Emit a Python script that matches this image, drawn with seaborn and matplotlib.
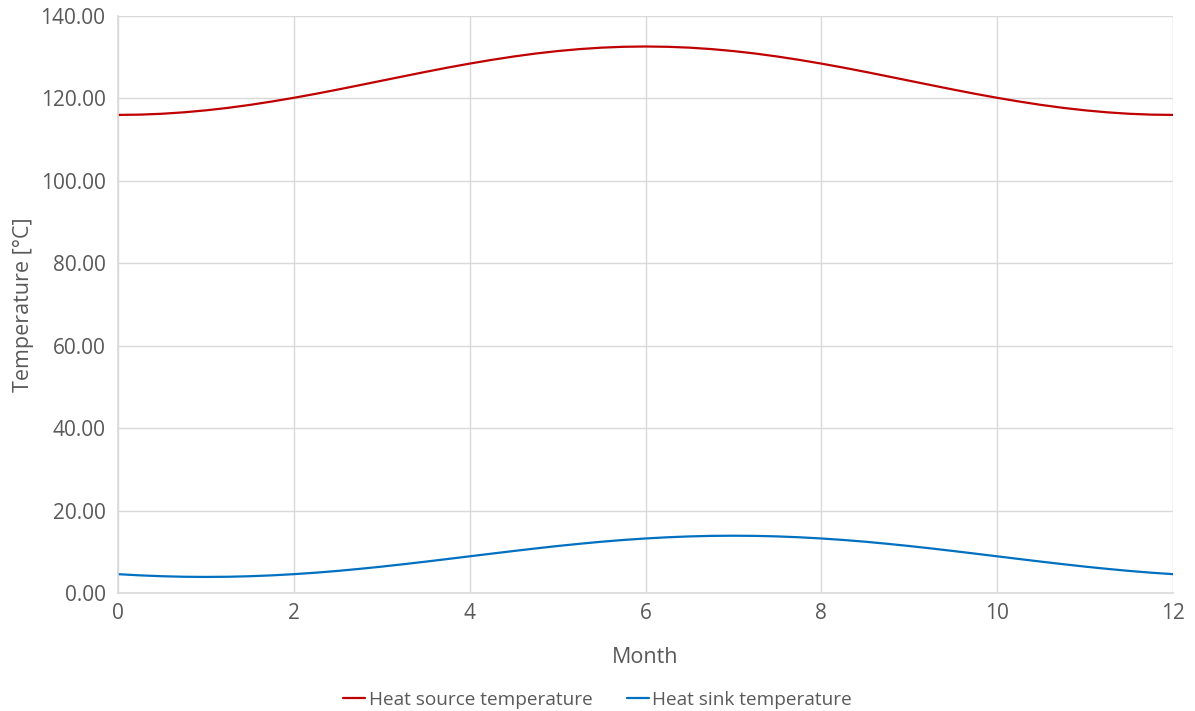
import numpy as np
import pandas as pd
import matplotlib
matplotlib.use("Agg")
import matplotlib.pyplot as plt
import seaborn as sns
from matplotlib.ticker import FormatStrFormatter

# Temperature profiles over the year, sampled every quarter month
month = np.linspace(0, 12, 49).tolist()
heat_source = [116.00, 116.07, 116.28, 116.63, 117.11, 117.71, 118.43, 119.25,
               120.15, 121.12, 122.15, 123.22, 124.30, 125.38, 126.45, 127.48,
               128.45, 129.35, 130.17, 130.89, 131.49, 131.97, 132.32, 132.53,
               132.60, 132.53, 132.32, 131.97, 131.49, 130.89, 130.17, 129.35,
               128.45, 127.48, 126.45, 125.38, 124.30, 123.22, 122.15, 121.12,
               120.15, 119.25, 118.43, 117.71, 117.11, 116.63, 116.28, 116.07,
               116.00]
heat_sink = [4.57, 4.28, 4.07, 3.94, 3.90, 3.94, 4.07, 4.28, 4.57, 4.93,
             5.36, 5.86, 6.40, 6.99, 7.61, 8.25, 8.90, 9.55, 10.19, 10.81,
             11.40, 11.94, 12.44, 12.87, 13.23, 13.52, 13.73, 13.86, 13.90,
             13.86, 13.73, 13.52, 13.23, 12.87, 12.44, 11.94, 11.40, 10.81,
             10.19, 9.55, 8.90, 8.25, 7.61, 6.99, 6.40, 5.86, 5.36, 4.93, 4.57]
series_names = ["Heat source temperature", "Heat sink temperature"]
series_colors = ["#C00000", "#0070C0"]

df = pd.DataFrame({
    "Month": month * 2,
    "Temperature": heat_source + heat_sink,
    "Series": [series_names[0]] * len(month) + [series_names[1]] * len(month),
})

sns.set_theme(style="white")
plt.rcParams["font.family"] = ["Open Sans", "DejaVu Sans"]
text_color = "#595959"
grid_color = "#D9D9D9"

fig = plt.figure(figsize=(11.95, 7.11), dpi=100)
ax = fig.add_axes([118 / 1195, 1 - 593 / 711, (1173 - 118) / 1195, (593 - 16) / 711])

sns.lineplot(data=df, x="Month", y="Temperature", hue="Series",
             palette=dict(zip(series_names, series_colors)),
             linewidth=1.6, ax=ax, legend=True)

ax.set_xlim(0, 12)
ax.set_ylim(0, 140)
ax.set_xticks(np.arange(0, 13, 2))
ax.set_yticks(np.arange(0, 141, 20))
ax.yaxis.set_major_formatter(FormatStrFormatter("%.2f"))
ax.grid(True, color=grid_color, linewidth=1)
ax.set_axisbelow(True)
for side in ["top", "right"]:
    ax.spines[side].set_visible(False)
for side in ["left", "bottom"]:
    ax.spines[side].set_color(grid_color)
    ax.spines[side].set_linewidth(1.2)
ax.tick_params(axis="y", length=0, labelsize=15, colors=text_color, pad=9)
ax.tick_params(axis="x", length=0, labelsize=15, colors=text_color, pad=7)

ax.set_xlabel("Month", fontsize=15.5, color=text_color, labelpad=17)
ax.set_ylabel("Temperature [°C]", fontsize=15.5, color=text_color, labelpad=5)

# Legend centred under the whole figure
handles, labels = ax.get_legend_handles_labels()
ax.get_legend().remove()
fig.legend(handles, labels, loc="center", bbox_to_anchor=(0.5, 1 - 700 / 711),
           ncol=2, frameon=False, fontsize=13.7, labelcolor=text_color,
           handlelength=1.15, handletextpad=0.2, columnspacing=1.8)

fig.savefig("out.png", dpi=100, facecolor="white")
